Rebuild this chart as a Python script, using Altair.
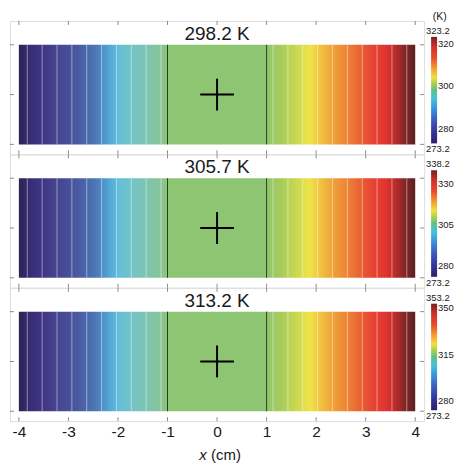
import altair as alt
import pandas as pd

# ---- values -------------------------------------------------------------
x_ticks = [-4, -3, -2, -1, 0, 1, 2, 3, 4]
panel_labels = ["298.2 K", "305.7 K", "313.2 K"]
t_cold = [273.2, 273.2, 273.2]
t_hot = [323.2, 338.2, 353.2]
bar_ticks = [[320, 300, 280], [330, 305, 280], [350, 315, 280]]

# heated zones on each side and the sample block in the middle (cm)
zone_left = [-4.0, -1.0]
zone_right = [1.0, 4.0]
sample_zone = [-1.0, 1.0]
# mesh cell boundaries inside the heated zones (cm)
mesh_left = [-3.83, -3.53, -3.23, -2.93, -2.63, -2.33, -2.03, -1.73, -1.43, -1.13]
mesh_right = [1.13, 1.43, 1.73, 2.03, 2.33, 2.63, 2.93, 3.23, 3.53, 3.83]
cross_half = 0.34  # half width of the centre marker (cm)

# ---- styling ------------------------------------------------------------
W, H = 416, 134
BAR_TOP, BAR_BOT, BAR_MID = 24, 124, 74
CB_TOP, CB_BOT = 16, 123
FRAME = "#8a8a8a"
INK = "#1a1a1a"
SAMPLE_COLOR = "#8dc572"

left_stops = [(0.0, "#2b2452"), (0.06, "#362a6c"), (0.1, "#3b2f7a"), (0.21, "#443d8a"),
              (0.39, "#4a58a0"), (0.52, "#4c78b8"), (0.61, "#52a8d8"), (0.68, "#66c0d8"),
              (0.79, "#76c4c0"), (0.93, "#84c4a0"), (1.0, "#8cc47c")]
right_stops = [(0.0, "#92c46c"), (0.1, "#a8cc5c"), (0.2, "#cad852"), (0.29, "#eee448"),
               (0.35, "#f0c842"), (0.45, "#f0a038"), (0.55, "#ec8034"), (0.65, "#e85a32"),
               (0.72, "#e64232"), (0.8, "#e03530"), (0.86, "#c02c2a"), (0.92, "#8a2826"),
               (1.0, "#5a2020")]
cbar_stops = [(0.0, "#2a2266"), (0.1, "#33339a"), (0.22, "#3b5cc0"), (0.33, "#3a94dc"),
              (0.42, "#48c0d8"), (0.5, "#60c088"), (0.56, "#a8d050"), (0.62, "#f0e03c"),
              (0.7, "#f5a030"), (0.8, "#ea4c2a"), (0.9, "#d4302a"), (1.0, "#78201e")]


def gradient(stops, vertical=False):
    gs = [alt.GradientStop(color=c, offset=o) for o, c in stops]
    if vertical:
        return alt.LinearGradient(gradient="linear", stops=gs, x1=0, x2=0, y1=1, y2=0)
    return alt.LinearGradient(gradient="linear", stops=gs, x1=0, x2=1, y1=0, y2=0)


xscale = alt.Scale(domain=[-4.18, 4.18], nice=False, zero=False)


def strip_panel(i, with_axis):
    if with_axis:
        ax = alt.Axis(values=x_ticks, labelExpr="'' + datum.value", ticks=False,
                      domain=False, grid=False, labelFontSize=15.5, labelPadding=3,
                      labelColor=INK, labelFont="Liberation Sans")
    else:
        ax = None

    def X(field):
        return alt.X(field, type="quantitative", scale=xscale, axis=ax, title=None)

    layers = []
    zones = [(zone_left, gradient(left_stops)), (sample_zone, SAMPLE_COLOR),
             (zone_right, gradient(right_stops))]
    for (a, b), fill in zones:
        layers.append(
            alt.Chart(pd.DataFrame({"a": [a], "b": [b]})).mark_rect(color=fill).encode(
                x=X("a"), x2="b", y=alt.value(BAR_TOP), y2=alt.value(BAR_BOT)))

    # mesh lines
    layers.append(
        alt.Chart(pd.DataFrame({"m": mesh_left + mesh_right})).mark_rule(
            color="white", opacity=0.45, strokeWidth=1).encode(
            x=X("m"), y=alt.value(BAR_TOP), y2=alt.value(BAR_BOT)))
    # sample edges
    layers.append(
        alt.Chart(pd.DataFrame({"m": sample_zone})).mark_rule(
            color="#25421f", strokeWidth=1).encode(
            x=X("m"), y=alt.value(BAR_TOP), y2=alt.value(BAR_BOT)))
    # centre marker
    layers.append(
        alt.Chart(pd.DataFrame({"a": [-cross_half], "b": [cross_half]})).mark_rule(
            color="black", strokeWidth=2).encode(
            x=X("a"), x2="b", y=alt.value(BAR_MID)))
    layers.append(
        alt.Chart(pd.DataFrame({"c": [0.0]})).mark_rule(
            color="black", strokeWidth=2).encode(
            x=X("c"), y=alt.value(BAR_MID - 16), y2=alt.value(BAR_MID + 16)))
    # panel label
    layers.append(
        alt.Chart(pd.DataFrame({"c": [0.0], "t": [panel_labels[i]]})).mark_text(
            fontSize=19, color=INK, baseline="middle", font="Liberation Sans").encode(
            x=X("c"), y=alt.value(13), text="t:N"))
    # inward ticks on the frame
    tick_df = pd.DataFrame({"v": x_ticks})
    layers.append(alt.Chart(tick_df).mark_rule(color=FRAME, strokeWidth=1).encode(
        x=X("v"), y=alt.value(0), y2=alt.value(4)))
    layers.append(alt.Chart(tick_df).mark_rule(color=FRAME, strokeWidth=1).encode(
        x=X("v"), y=alt.value(H - 4), y2=alt.value(H)))
    for py in (BAR_TOP, BAR_MID, BAR_BOT):
        for x0, x1 in ((0, 4), (W - 4, W)):
            layers.append(alt.Chart(pd.DataFrame({"k": [0]})).mark_rule(
                color=FRAME, strokeWidth=1).encode(
                x=alt.value(x0), x2=alt.value(x1), y=alt.value(py)))

    if with_axis:
        title_df = pd.DataFrame({"c": [0.0], "t": ["x"], "u": ["(cm)"]})
        layers.append(alt.Chart(title_df).mark_text(
            fontSize=15, fontStyle="italic", align="left", baseline="middle",
            dx=-18, color=INK, font="Liberation Sans").encode(
            x=X("c"), y=alt.value(H + 34), text="t:N"))
        layers.append(alt.Chart(title_df).mark_text(
            fontSize=15, align="left", baseline="middle", dx=-6, color=INK,
            font="Liberation Sans").encode(
            x=X("c"), y=alt.value(H + 34), text="u:N"))

    return alt.layer(*layers).properties(width=W, height=H)


def colorbar(i):
    lo, hi = t_cold[i], t_hot[i]
    ysc = alt.Scale(domain=[lo, hi], range=[CB_BOT, CB_TOP], nice=False, zero=False)
    bar = alt.Chart(pd.DataFrame({"lo": [lo], "hi": [hi]})).mark_rect(
        color=gradient(cbar_stops, vertical=True)).encode(
        y=alt.Y("lo:Q", scale=ysc, axis=None), y2="hi",
        x=alt.value(7), x2=alt.value(13))
    inner = alt.Chart(pd.DataFrame({"v": bar_ticks[i]})).mark_text(
        fontSize=9.5, align="left", baseline="middle", color=INK,
        font="Liberation Sans").encode(
        y=alt.Y("v:Q", scale=ysc, axis=None), x=alt.value(14), text=alt.Text("v:Q"))
    top = alt.Chart(pd.DataFrame({"v": [hi]})).mark_text(
        fontSize=9.5, align="center", baseline="middle", dy=-6, color=INK,
        font="Liberation Sans").encode(
        y=alt.Y("v:Q", scale=ysc, axis=None), x=alt.value(13.8),
        text=alt.Text("v:Q", format=".1f"))
    bottom = alt.Chart(pd.DataFrame({"v": [lo]})).mark_text(
        fontSize=9.5, align="center", baseline="middle", dy=6, color=INK,
        font="Liberation Sans").encode(
        y=alt.Y("v:Q", scale=ysc, axis=None), x=alt.value(13.8),
        text=alt.Text("v:Q", format=".1f"))
    layers = [bar, inner, top, bottom]
    if i == 0:
        layers.append(alt.Chart(pd.DataFrame({"t": ["(K)"]})).mark_text(
            fontSize=10.5, align="center", baseline="middle", color=INK,
            font="Liberation Sans").encode(
            x=alt.value(15.7), y=alt.value(-4), text="t:N"))
    return alt.layer(*layers).properties(
        width=31, height=H, view=alt.ViewBackground(stroke="transparent"))


cells = []
for i in range(3):
    cells.append(strip_panel(i, i == 2))
    cells.append(colorbar(i))

chart = (
    alt.concat(*cells, columns=2, spacing=0, bounds="flush", align="each")
    .resolve_scale(y="independent")
    .properties(padding={"left": 9, "top": 10, "right": 0, "bottom": 0},
                background="white")
    .configure_view(stroke=FRAME, strokeWidth=1)
    .configure(font="Liberation Sans")
)

chart.save("out.html", embed_options={"renderer": "svg", "actions": False})
